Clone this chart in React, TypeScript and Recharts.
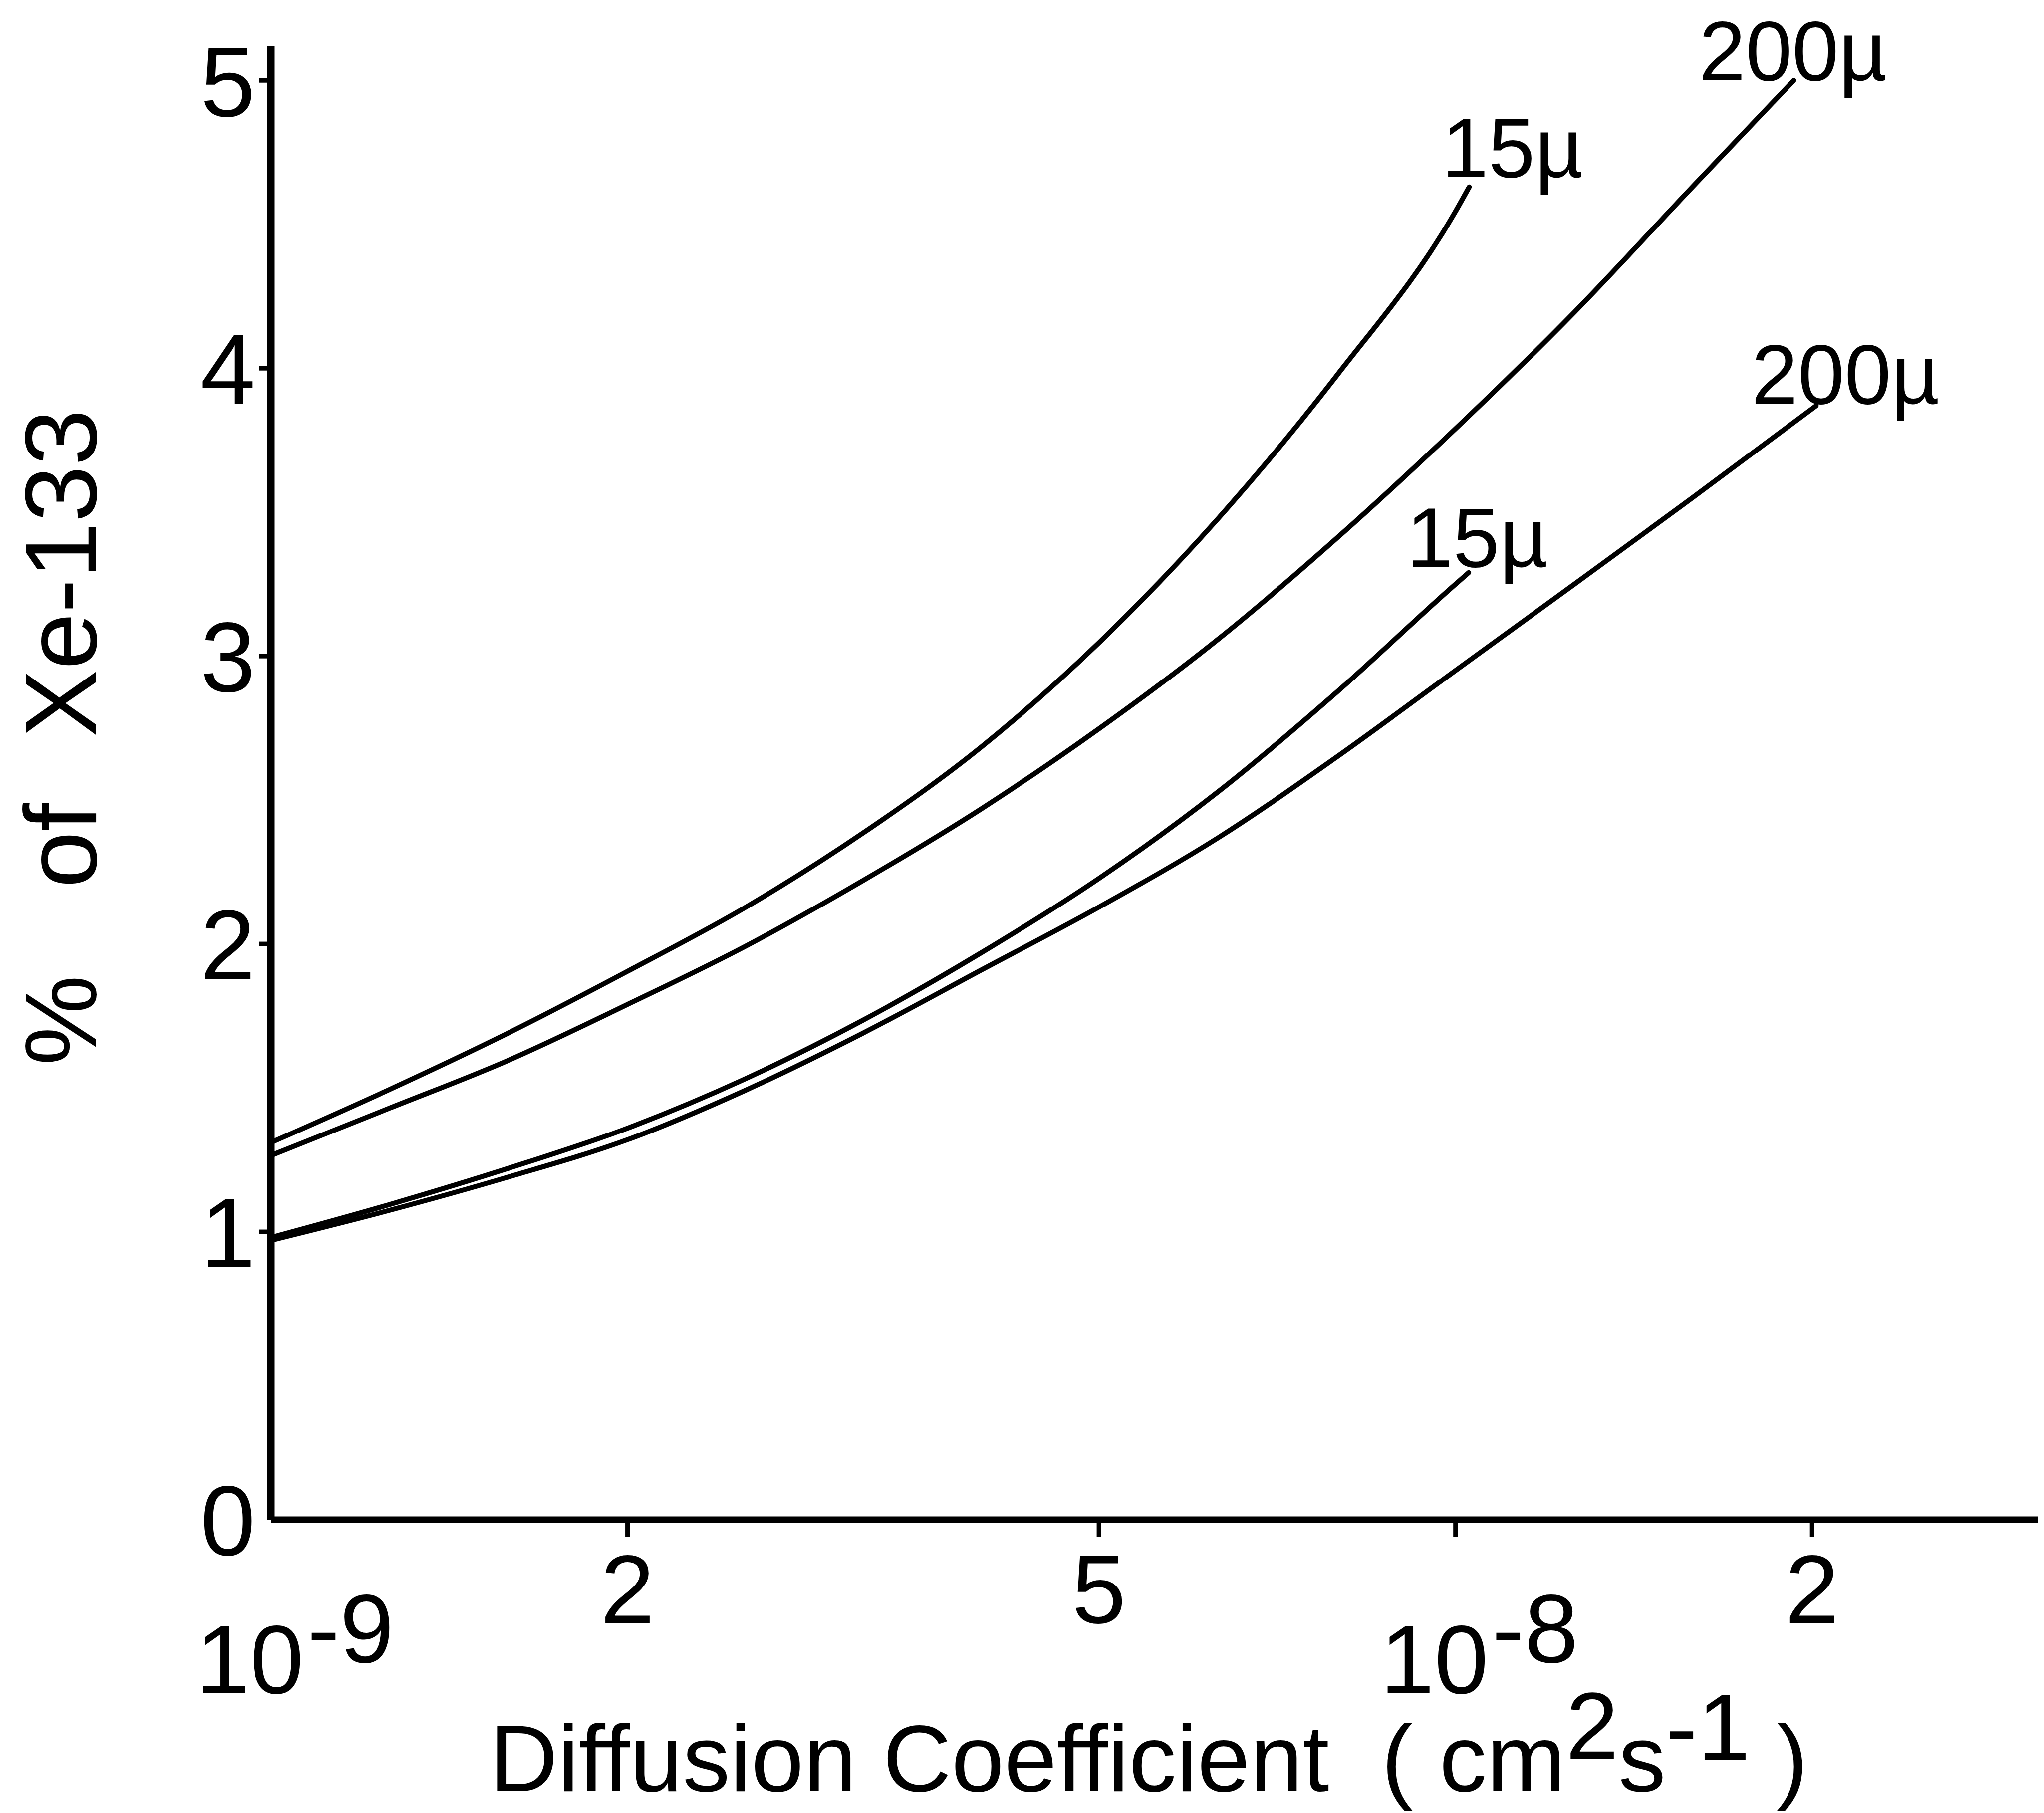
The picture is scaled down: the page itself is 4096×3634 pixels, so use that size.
import { LineChart, Line, XAxis, YAxis, LabelList } from 'recharts';

// Diffusion coefficient (cm2 s-1) against % of Xe-133
const dUpper15 = [1.0e-9, 1.26e-9, 1.585e-9, 2.0e-9, 2.51e-9, 3.16e-9, 3.98e-9, 5.01e-9, 6.31e-9, 7.94e-9, 1.0e-8, 1.027e-8];
const pctUpper15 = [1.31, 1.495, 1.69, 1.905, 2.125, 2.385, 2.685, 3.05, 3.48, 3.975, 4.545, 4.63];

const dUpper200 = [1.0e-9, 1.26e-9, 1.585e-9, 2.0e-9, 2.51e-9, 3.16e-9, 3.98e-9, 5.01e-9, 6.31e-9, 7.94e-9, 1.0e-8, 1.26e-8, 1.585e-8, 1.93e-8];
const pctUpper200 = [1.265, 1.43, 1.595, 1.79, 1.99, 2.22, 2.47, 2.75, 3.06, 3.41, 3.79, 4.195, 4.63, 5.0];

const dLower15 = [1.0e-9, 1.26e-9, 1.585e-9, 2.0e-9, 2.51e-9, 3.16e-9, 3.98e-9, 5.01e-9, 6.31e-9, 7.94e-9, 1.0e-8, 1.026e-8];
const pctLower15 = [0.98, 1.095, 1.22, 1.36, 1.53, 1.735, 1.97, 2.23, 2.53, 2.875, 3.25, 3.29];

const dLower200 = [1.0e-9, 1.26e-9, 1.585e-9, 2.0e-9, 2.51e-9, 3.16e-9, 3.98e-9, 5.01e-9, 6.31e-9, 7.94e-9, 1.0e-8, 1.26e-8, 1.585e-8, 2.016e-8];
const pctLower200 = [0.97, 1.075, 1.19, 1.32, 1.49, 1.69, 1.91, 2.13, 2.37, 2.65, 2.95, 3.25, 3.55, 3.87];

const curveNames = ['15µ', '200µ', '15µ', '200µ'];

const xTicks = [1e-9, 2e-9, 5e-9, 1e-8, 2e-8];
const xTickLabels = [['10', '-9'], ['2'], ['5'], ['10', '-8'], ['2']];
const yTicks = [0, 1, 2, 3, 4, 5];

const FONT = "'Liberation Sans', Arial, sans-serif";

// where each curve's name sits relative to the curve's last point
const labelOffsets = [
  { dx: -55, dy: -20 },
  { dx: -190, dy: 0 },
  { dx: -125, dy: -12 },
  { dx: -130, dy: -4 },
];

const toRows = (d: number[], p: number[]) => d.map((v, i) => ({ d: v, pct: p[i] }));

const series = [
  toRows(dUpper15, pctUpper15),
  toRows(dUpper200, pctUpper200),
  toRows(dLower15, pctLower15),
  toRows(dLower200, pctLower200),
];

function XTick(props: any) {
  const { x, y, payload } = props;
  const i = xTicks.findIndex((t) => Math.abs(t - payload.value) / t < 1e-6);
  const parts = xTickLabels[i] ?? [String(payload.value)];
  const showTick = i !== 0;
  return (
    <g>
      {showTick && <line x1={x} x2={x} y1={y} y2={y + 34} stroke="#000" strokeWidth={9} />}
      {parts.length === 2 ? (
        <>
          <text x={x + 66} y={y + 348} textAnchor="end" fontSize={195} fontFamily={FONT} fill="#000">
            {parts[0]}
          </text>
          <text x={x + 73} y={y + 286} textAnchor="start" fontSize={195} fontFamily={FONT} fill="#000">
            {parts[1]}
          </text>
        </>
      ) : (
        <text x={x} y={y + 207} textAnchor="middle" fontSize={195} fontFamily={FONT} fill="#000">
          {parts[0]}
        </text>
      )}
    </g>
  );
}

function YTick(props: any) {
  const { x, y, payload } = props;
  return (
    <g>
      {payload.value !== 0 && <line x1={x - 24} x2={x} y1={y} y2={y} stroke="#000" strokeWidth={9} />}
      <text x={x - 32} y={y} dy="0.36em" textAnchor="end" fontSize={198} fontFamily={FONT} fill="#000">
        {payload.value}
      </text>
    </g>
  );
}

function XTitle(props: any) {
  const vb = props.viewBox ?? { x: 543, y: 3046, width: 3540, height: 588 };
  return (
    <text x={vb.x + vb.width / 2 - 11} y={vb.y + 544} textAnchor="middle" fontSize={190} fontFamily={FONT} fill="#000">
      Diffusion Coefficient
      <tspan dx={52}> (</tspan>
      <tspan> cm</tspan>
      <tspan dy={-65}>2</tspan>
      <tspan dy={65}>s</tspan>
      <tspan dy={-62}>-1</tspan>
      <tspan dy={62}> )</tspan>
    </text>
  );
}

function YTitle(props: any) {
  const vb = props.viewBox ?? { x: 0, y: 92, width: 543, height: 2954 };
  const cx = vb.x + 193;
  const cy = vb.y + vb.height / 2 - 91;
  return (
    <text
      x={cx}
      y={cy}
      transform={`rotate(-90, ${cx}, ${cy})`}
      textAnchor="middle"
      fontSize={204}
      fontFamily={FONT}
      fill="#000"
    >
      %
      <tspan dx={118}> of</tspan>
      <tspan dx={75}> Xe-133</tspan>
    </text>
  );
}

function endLabel(k: number) {
  const rows = series[k];
  const last = rows[rows.length - 1].pct;
  const { dx, dy } = labelOffsets[k];
  return (props: any) => {
    const isLast = props.index != null ? props.index === rows.length - 1 : props.value === last;
    if (!isLast) return null;
    const px = props.x ?? props.viewBox?.x;
    const py = props.y ?? props.viewBox?.y;
    return (
      <text x={px + dx} y={py + dy} fontSize={168} fontFamily={FONT} fill="#000">
        {curveNames[k]}
      </text>
    );
  };
}

export default function App() {
  return (
    <div style={{ position: 'absolute', left: 0, top: 0, width: 4096, height: 3634, background: '#fff' }}>
      <LineChart width={4096} height={3634} margin={{ top: 92, right: 13, left: 0, bottom: 0 }}>
        <XAxis
          type="number"
          dataKey="d"
          scale="log"
          domain={[1e-9, 3.1e-8]}
          allowDataOverflow
          ticks={xTicks}
          interval={0}
          height={588}
          tickSize={0}
          tickMargin={0}
          tickLine={false}
          axisLine={{ stroke: '#000', strokeWidth: 13 }}
          tick={<XTick />}
          label={{ content: XTitle }}
        />
        <YAxis
          type="number"
          domain={[0, 5.12]}
          allowDataOverflow
          ticks={yTicks}
          interval={0}
          width={543}
          tickSize={0}
          tickMargin={0}
          tickLine={false}
          axisLine={{ stroke: '#000', strokeWidth: 15 }}
          tick={<YTick />}
          label={{ content: YTitle }}
        />
        {series.map((rows, k) => (
          <Line
            key={k}
            data={rows}
            dataKey="pct"
            type="monotone"
            stroke="#000"
            strokeWidth={10}
            strokeLinecap="round"
            dot={false}
            isAnimationActive={false}
          >
            <LabelList dataKey="pct" content={endLabel(k)} />
          </Line>
        ))}
      </LineChart>
    </div>
  );
}
